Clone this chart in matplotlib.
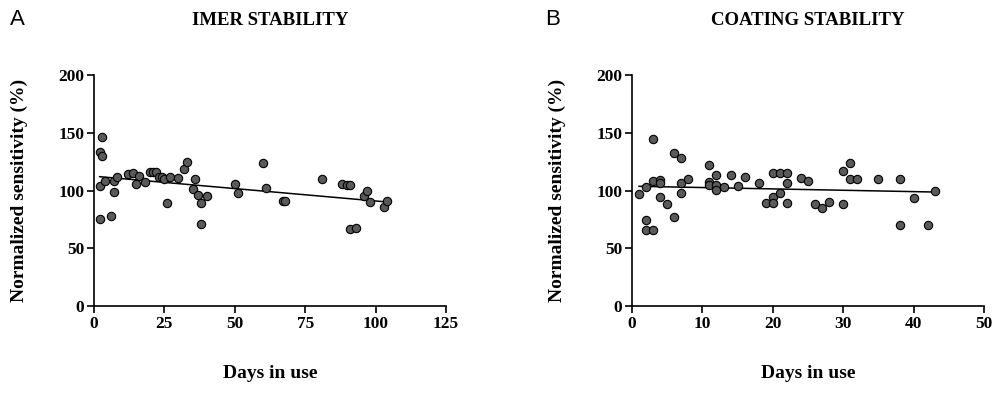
import matplotlib.pyplot as plt
import numpy as np

# panel A - IMER stability
days_a = [2, 2, 2, 3, 3, 4, 6, 7, 7, 8, 12, 14, 15, 16, 18, 20, 21, 22, 23, 24,
          25, 26, 27, 30, 32, 33, 35, 36, 37, 38, 38, 40, 50, 51, 60, 61, 67, 68,
          81, 88, 90, 91, 91, 93, 96, 97, 98, 103, 104]
sens_a = [133.6, 103.9, 75.6, 146.1, 129.9, 108, 77.9, 98.7, 108, 111.4, 114.3,
          114.9, 105.6, 112.8, 107.4, 116.3, 116.3, 116.3, 111.4, 111.4, 109.7,
          89.4, 111.4, 110.8, 118.6, 124.7, 101, 109.7, 96.1, 89.4, 71.3, 95,
          105.9, 97.8, 123.5, 101.9, 90.9, 90.9, 110.2, 105.9, 104.5, 105, 66.7,
          67.3, 95.5, 99.3, 90, 86, 90.9]

# panel B - coating stability
days_b = [1, 2, 2, 2, 3, 3, 3, 4, 4, 4, 5, 6, 6, 7, 7, 7, 8, 11, 11, 11, 12, 12,
          12, 13, 14, 15, 16, 18, 19, 20, 20, 20, 21, 21, 22, 22, 22, 24, 25, 26,
          27, 28, 30, 30, 31, 31, 32, 35, 38, 38, 40, 42, 43]
sens_b = [96.7, 102.8, 74.5, 65.5, 65.5, 144.6, 108.5, 109.1, 106.8, 94.6, 88.3,
          132.5, 76.8, 128.4, 106.8, 97.6, 110, 122.3, 107.1, 104.8, 113.2, 104.8,
          100.7, 102.8, 113.7, 103.6, 111.4, 106.5, 89.4, 114.9, 94.1, 89.4, 114.9,
          98.1, 114.9, 106.5, 88.9, 110.6, 108.5, 88, 84.6, 89.8, 117.1, 88, 123.5,
          110, 109.7, 110, 110, 69.9, 93.8, 70.1, 99.6]

serif = ['Liberation Serif', 'DejaVu Serif']
sans = ['Liberation Sans', 'DejaVu Sans']

fig = plt.figure(figsize=(10, 3.93), dpi=100)
ax_a = fig.add_axes([0.094, 0.221, 0.352, 0.588])
ax_b = fig.add_axes([0.632, 0.221, 0.352, 0.588])

panels = [
    (ax_a, days_a, sens_a, 'IMER STABILITY', [0, 25, 50, 75, 100, 125], 'A', 0.010),
    (ax_b, days_b, sens_b, 'COATING STABILITY', [0, 10, 20, 30, 40, 50], 'B', 0.545),
]

for ax, x, y, title, xticks, letter, lx in panels:
    x = np.array(x)
    y = np.array(y)
    ax.scatter(x, y, s=36, facecolor='#5a5a5a', edgecolor='black', linewidth=0.8, zorder=3)
    # linear fit
    k, b = np.polyfit(x, y, 1)
    xs = np.array([x.min(), x.max()])
    ax.plot(xs, k * xs + b, color='black', lw=1.1, zorder=2)

    ax.set_xlim(0, xticks[-1])
    ax.set_ylim(0, 200)
    ax.set_xticks(xticks)
    ax.set_yticks([0, 50, 100, 150, 200])
    for s in ['top', 'right']:
        ax.spines[s].set_visible(False)
    for s in ['left', 'bottom']:
        ax.spines[s].set_linewidth(1.2)
    ax.tick_params(width=1.2, length=5, labelsize=12.5, pad=2)
    for lab in ax.get_xticklabels() + ax.get_yticklabels():
        lab.set_family(serif)
        lab.set_fontweight('bold')

    ax.set_xlabel('Days in use', family=serif, fontweight='bold', fontsize=14, labelpad=24)
    ax.set_ylabel('Normalized sensitivity (%)', family=serif, fontweight='bold', fontsize=14, labelpad=22)
    ax.set_title(title, family=serif, fontweight='bold', fontsize=13.5, pad=36)
    fig.text(lx, 0.95, letter, family=sans, fontsize=16, ha='left', va='center')

plt.savefig('out.png', dpi=100)
